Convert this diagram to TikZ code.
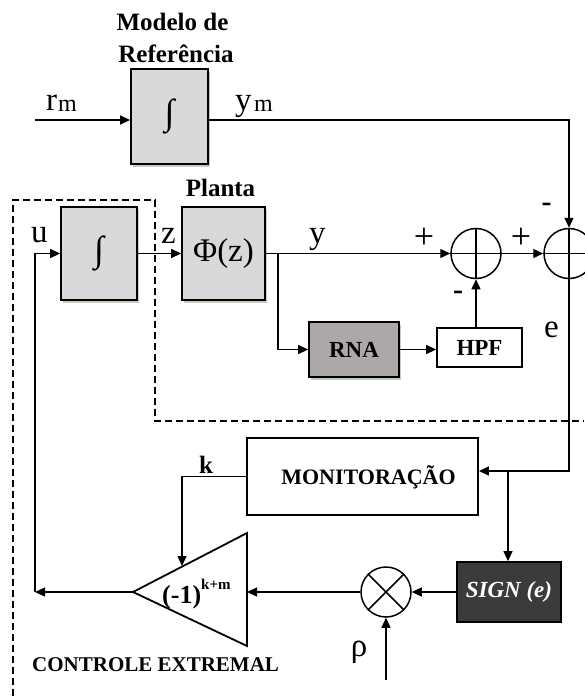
\documentclass[tikz,border=0pt]{standalone}
\usepackage{fontspec}
\setmainfont{Liberation Serif}
\usetikzlibrary{arrows.meta,shadows,calc}
\definecolor{boxgray}{HTML}{D9D9D9}
\definecolor{rnagray}{HTML}{ADA8A8}
\definecolor{signdark}{HTML}{3B3B3B}
\definecolor{shadowgreen}{HTML}{C3CDBB}
\begin{document}
\begin{tikzpicture}[x=1pt,y=-1pt,
  conn/.style={line width=1.3pt},
  arr/.style={conn,-{Triangle[length=10pt,width=9pt]}},
  blk/.style={draw,line width=1.8pt,inner sep=0pt,drop shadow={shadow xshift=2pt,shadow yshift=-2.5pt,fill=shadowgreen,opacity=1}},
  plainblk/.style={draw,line width=1.8pt,inner sep=0pt},
  sumc/.style={draw,circle,line width=1.5pt,minimum size=50pt,inner sep=0pt},
  lbl/.style={font=\fontsize{33}{36}\selectfont,inner sep=0pt},
  sublbl/.style={font=\fontsize{24}{26}\selectfont,inner sep=0pt},
  blbl/.style={font=\bfseries\fontsize{25}{28}\selectfont,inner sep=0pt},
  sgn/.style={font=\fontsize{36}{40}\selectfont,inner sep=0pt},
  minus/.style={font=\bfseries\fontsize{30}{32}\selectfont,inner sep=0pt},
  intg/.style={font=\fontsize{36}{40}\selectfont}
]
\useasboundingbox (0,0) rectangle (584,696);

% dashed boundary of the extremal controller
\draw[line width=1.3pt,dash pattern=on 7pt off 4pt] (13,696) -- (13,200) -- (155,200) -- (155,421) -- (584,421);

% reference model
\node[blbl,anchor=base] (t1) at (172.5,30.5) {Modelo de};
\node[blbl,anchor=base] (t2) at (176,62) {Referência};
\node[blk,fill=boxgray,minimum width=77pt,minimum height=95pt,intg] (ref) at (169.5,116.5) {∫};
\coordinate (rin) at (35,120);
\draw[arr] (rin) -- (rin -| ref.west);
\node[lbl,anchor=base west] (rm) at (46,110) {r};
\node[sublbl,anchor=base west] (rmsub) at (58,111) {m};
\node[lbl,anchor=base west] (ym) at (235,110) {y};
\node[sublbl,anchor=base west] (ymsub) at (254,111) {m};

% summing junctions
\node[sumc] (s1) at (476,253.5) {};
\node[sumc] (s2) at (569,253.5) {};
\draw[line width=1.5pt] (s1.north) -- (s1.south) (s1.west) -- (s1.east);
\draw[line width=1.5pt] (s2.north) -- (s2.south) (s2.west) -- (s2.east);
\draw[arr] (ref.east |- rin) -| (s2.north);

% integrator and plant
\node[blk,fill=boxgray,minimum width=76pt,minimum height=93pt,intg] (int) at (99,253.5) {∫};
\node[blk,fill=boxgray,minimum width=83pt,minimum height=93pt,font=\fontsize{33}{36}\selectfont] (pl) at (223.5,253.5) {Φ(z)};
\node[blbl,anchor=base] (plt) at (220.5,196) {Planta};
\draw[arr] (int.east) -- (pl.west);
\node[lbl,anchor=base west] (zl) at (161,243) {z};
\node[lbl,anchor=base west] (ul) at (31,242) {u};
\coordinate (br) at (278,253.5);
\draw[arr] (pl.east) -- (s1.west);
\node[lbl,anchor=base west] (yl) at (309,243) {y};
\node[sgn] (p1) at (424,238) {+};
\node[sgn] (p2) at (521,238) {+};
\node[minus] (m1) at (546.5,207) {-};
\node[minus] (m2) at (458,295) {-};

% neural network branch
\node[blk,fill=rnagray,minimum width=90pt,minimum height=55pt,font=\bfseries\fontsize{23}{26}\selectfont] (rna) at (354,349.5) {RNA};
\node[plainblk,fill=white,minimum width=85pt,minimum height=39pt,font=\bfseries\fontsize{23}{26}\selectfont] (hpf) at (479.5,347.5) {HPF};
\draw[arr] (br) |- (rna.west);
\draw[arr] (rna.east) -- (rna.east -| hpf.west);
\draw[arr] (hpf.north -| s1) -- (s1.south);
\draw[arr] (s1.east) -- (s2.west);
\node[lbl,anchor=base west] (el) at (544,337) {e};

% monitoring
\node[plainblk,minimum width=231pt,minimum height=77pt] (mon) at (362.5,476.5) {};
\node[font=\bfseries\fontsize{22}{26}\selectfont,anchor=base,inner sep=0pt] (montxt) at (368.5,484) {MONITORAÇÃO};
\coordinate (ecorner) at (569,471);
\draw[arr] (s2.south) -- (ecorner) -- (ecorner -| mon.east);
\coordinate (sbr) at (508,471);

% sign block and multiplier
\node[plainblk,fill=signdark,text=white,minimum width=104pt,minimum height=60pt,font=\bfseries\itshape\fontsize{23}{26}\selectfont] (sign) at (509,592) {SIGN (e)};
\draw[arr] (sbr) -- (sbr |- sign.north);
\node[sumc] (mul) at (386,592) {};
\draw[line width=1.5pt] (mul.45) -- (mul.225) (mul.135) -- (mul.315);
\draw[arr] (sign.west) -- (mul.east);
\coordinate (rho0) at (386,680);
\draw[arr] (rho0) -- (mul.south);
\node[lbl] (rho) at (359,652) {ρ};

% gain triangle
\coordinate (ta) at (247,533);
\coordinate (tb) at (247,646);
\coordinate (tc) at (133,592);
\coordinate (tin) at (247,592);
\coordinate (ktip) at (182,566);
\draw[line width=1.8pt,line join=miter] (ta) -- (tb) -- (tc) -- cycle;
\node[font=\bfseries\fontsize{26}{30}\selectfont,anchor=base west,inner sep=0pt] (gain) at (162,603) {(-1)\raisebox{14pt}{\fontsize{15}{17}\selectfont k+m}};
\draw[arr] (mul.west) -- (tin);
\draw[arr] (mon.west) -| (ktip);
\node[font=\bfseries\fontsize{25}{28}\selectfont,anchor=base west,inner sep=0pt] (kl) at (199,473) {k};

% feedback to integrator input
\coordinate (uc) at (35,592);
\draw[arr] (tc) -- (uc);
\draw[arr] (uc) |- (int.west);

\node[font=\bfseries\fontsize{21}{24}\selectfont,anchor=base west,inner sep=0pt] (ctl) at (32,671) {CONTROLE EXTREMAL};
\end{tikzpicture}
\end{document}
